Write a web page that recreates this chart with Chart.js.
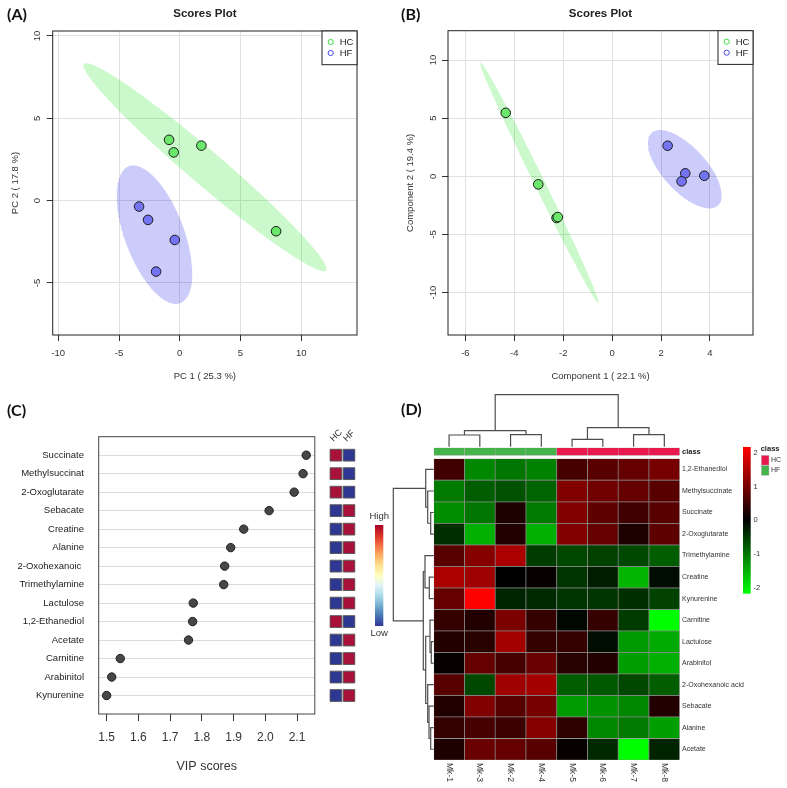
<!DOCTYPE html>
<html>
<head>
<meta charset="utf-8">
<title>Scores, VIP and heatmap</title>
<script src="https://cdn.jsdelivr.net/npm/chart.js@4.4.1/dist/chart.umd.min.js"></script>
<style>
  html, body { margin:0; padding:0; background:#fff; }
  #fig { position:relative; width:787px; height:788px; overflow:hidden; background:#fff; }
  #fig canvas { position:absolute; display:block; }
  .panel { position:absolute; font-family: Lato, "Open Sans", sans-serif; font-weight:700; font-size:16px; line-height:16px; color:#111; white-space:nowrap; }
</style>
</head>
<body>
<div id="fig">
  <canvas id="cA" width="393" height="393" style="left:0px;top:0px;width:393px;height:393px"></canvas>
  <canvas id="cB" width="394" height="393" style="left:393px;top:0px;width:394px;height:393px"></canvas>
  <canvas id="cC" width="320" height="388" style="left:0px;top:400px;width:320px;height:388px"></canvas>
  <canvas id="cCsq" width="73" height="388" style="left:320px;top:400px;width:73px;height:388px"></canvas>
  <canvas id="cD" width="394" height="403" style="left:393px;top:385px;width:394px;height:403px"></canvas>
  <canvas id="cDcol" width="254" height="62" style="left:430px;top:388px;width:254px;height:62px"></canvas>
  <canvas id="cDrow" width="48" height="310" style="left:388px;top:455px;width:48px;height:310px"></canvas>
  <div class="panel" style="left:7px;top:6px">(A)</div>
  <div class="panel" style="left:401px;top:6px">(B)</div>
  <div class="panel" style="left:7px;top:402px">(C)</div>
  <div class="panel" style="left:401px;top:401px">(D)</div>
</div>
<script>
// ---------------- DATA ----------------
const groupNames = ['HC', 'HF'];

// Panel A: PCA scores
const pcaHC_x = [-0.88, -0.50, 1.78, 7.93];
const pcaHC_y = [3.69, 2.93, 3.34, -1.86];
const pcaHF_x = [-3.35, -2.61, -0.41, -1.95];
const pcaHF_y = [-0.36, -1.17, -2.39, -4.31];
// confidence ellipses: [centreX, centreY, axis1X, axis1Y, axis2X, axis2Y]
const pcaHC_ellipse = [2.08, 2.03, 9.96, -6.27, -0.91, -0.78];
const pcaHF_ellipse = [-2.08, -2.07, 3.11, -2.36, 0, -3.48];

// Panel B: PLS-DA scores
const plsHC_x = [-4.35, -3.02, -2.27, -2.22];
const plsHC_y = [5.46, -0.69, -3.58, -3.50];
const plsHF_x = [2.27, 2.99, 2.84, 3.77];
const plsHF_y = [2.63, 0.26, -0.43, 0.05];
const plsHC_ellipse = [-2.97, -0.56, 2.416, -10.35, -0.19, -0.197];
const plsHF_ellipse = [2.97, 0.61, 1.51, -2.25, 0, -2.51];

// Panel C: VIP scores
const vipFeatures = ['Succinate', 'Methylsuccinat', '2-Oxoglutarate', 'Sebacate', 'Creatine', 'Alanine',
  '2-Oxohexanoic ', 'Trimethylamine', 'Lactulose', '1,2-Ethanediol', 'Acetate', 'Carnitine', 'Arabinitol', 'Kynurenine'];
const vipScores = [2.129, 2.119, 2.091, 2.012, 1.932, 1.891, 1.872, 1.869, 1.773, 1.771, 1.758, 1.543, 1.516, 1.500];
const vipHC = ['High','High','High','Low','Low','Low','Low','Low','Low','High','Low','Low','Low','Low'];
const vipHF = ['Low','Low','Low','High','High','High','High','High','High','Low','High','High','High','High'];

// Panel D: heatmap
const sampleOrder = ['Mk-1', 'Mk-3', 'Mk-2', 'Mk-4', 'Mk-5', 'Mk-6', 'Mk-7', 'Mk-8'];
const sampleClass = ['HF', 'HF', 'HF', 'HF', 'HC', 'HC', 'HC', 'HC'];
const heatFeatures = ['1,2-Ethanediol', 'Methylsuccinate', 'Succinate', '2-Oxoglutarate', 'Trimethylamine',
  'Creatine', 'Kynurenine', 'Carnitine', 'Lactulose', 'Arabinitol', '2-Oxohexanoic acid', 'Sebacate', 'Alanine', 'Acetate'];
const heatZ = [
  [0.55, -1.15, -1.00, -1.10, 0.60, 0.75, 0.85, 1.00],
  [-1.05, -0.80, -0.70, -0.85, 1.10, 0.95, 0.85, 0.75],
  [-1.20, -1.00, 0.25, -1.05, 1.10, 0.80, 0.55, 0.75],
  [-0.40, -1.50, 0.30, -1.50, 1.10, 0.85, 0.25, 0.80],
  [0.75, 1.15, 1.45, -0.50, -0.60, -0.55, -0.60, -0.80],
  [1.45, 1.35, 0.00, 0.05, -0.45, -0.25, -1.55, -0.10],
  [0.85, 2.15, -0.30, -0.35, -0.45, -0.45, -0.40, -0.55],
  [0.45, 0.30, 1.05, 0.45, -0.05, 0.45, -0.50, -2.15],
  [0.30, 0.35, 1.40, 0.45, 0.45, -0.10, -1.30, -1.45],
  [0.05, 0.85, 0.60, 0.90, 0.35, 0.30, -1.35, -1.50],
  [0.75, -0.60, 1.35, 1.40, -0.80, -0.75, -0.60, -0.80],
  [0.30, 1.10, 0.75, 1.00, -1.30, -1.25, -1.15, 0.30],
  [0.45, 0.60, 0.50, 1.15, 0.40, -1.15, -1.05, -1.35],
  [0.25, 0.90, 0.85, 0.75, 0.05, -0.35, -2.15, -0.30]
];
const heatRange = 2.17;
const heatLegendTicks = [2, 1, 0, -1, -2];
// dendrograms: [childA, childB, height]; negative = leaf (1-based display order), positive = earlier merge
const colMerges = [[-5,-6,7.4], [-1,-2,11.7], [-3,-4,12.0], [-7,-8,12.0], [2,3,16.0], [1,4,19.0], [5,6,52.0]];
const rowMerges = [[-3,-4,3.0], [-2,1,6.0], [-1,2,8.0], [-6,-7,4.4], [-5,4,8.7], [-9,-10,2.4], [-8,6,3.7],
  [-13,-14,3.0], [-12,8,4.7], [-11,9,6.0], [7,10,8.0], [5,11,10.4], [3,12,40.4]];

// ---------------- STYLE ----------------
const FONT = '"Liberation Sans", Arial, sans-serif';
Chart.defaults.font.family = FONT;
Chart.defaults.color = '#333';
Chart.defaults.animation = false;
Chart.defaults.responsive = false;
Chart.defaults.plugins.legend.display = false;
Chart.defaults.plugins.tooltip.enabled = false;
Chart.defaults.plugins.title.display = false;

const groupFill = { HC: '#6BE86B', HF: '#7474F2' };
const groupEllipse = { HC: 'rgba(0,225,0,0.2)', HF: 'rgba(0,0,235,0.2)' };
const groupLegend = { HC: '#3BDC3B', HF: '#4A4AEE' };
const levelColor = { High: '#A8113A', Low: '#2E3792' };
const classColor = { HC: '#E8194C', HF: '#43B34A' };

function ellipsePoints(e) {
  const pts = [];
  for (let k = 0; k <= 180; k++) {
    const t = 2 * Math.PI * k / 180;
    pts.push({ x: e[0] + e[2] * Math.cos(t) + e[4] * Math.sin(t), y: e[1] + e[3] * Math.cos(t) + e[5] * Math.sin(t) });
  }
  return pts;
}
function zipXY(xs, ys) { return xs.map((x, i) => ({ x: x, y: ys[i] })); }

const scoresDecor = {
  id: 'scoresDecor',
  afterDraw(chart, args, o) {
    const ctx = chart.ctx, a = chart.chartArea;
    ctx.save();
    ctx.strokeStyle = '#222'; ctx.lineWidth = 1;
    ctx.strokeRect(a.left, a.top, a.right - a.left, a.bottom - a.top);
    ctx.fillStyle = '#222';
    ctx.font = 'bold 11.5px ' + FONT;
    ctx.textAlign = 'center'; ctx.textBaseline = 'middle';
    ctx.fillText(o.title, (a.left + a.right) / 2, 14);
    const lx = a.right - 35, ly = a.top;
    ctx.fillStyle = '#fff'; ctx.fillRect(lx, ly, 35, 33.7);
    ctx.strokeRect(lx, ly, 35, 33.7);
    ctx.font = '9.5px ' + FONT; ctx.textAlign = 'left';
    groupNames.forEach((g, i) => {
      const cy = ly + 11 + i * 11;
      ctx.beginPath(); ctx.arc(lx + 8.7, cy, 2.6, 0, 2 * Math.PI);
      ctx.strokeStyle = groupLegend[g]; ctx.lineWidth = 1; ctx.stroke();
      ctx.fillStyle = '#222'; ctx.fillText(g, lx + 17.7, cy + 0.5);
    });
    ctx.restore();
  }
};

function makeScores(id, p) {
  return new Chart(document.getElementById(id), {
    type: 'scatter',
    data: { datasets: [
      { data: ellipsePoints(p.ellHC), showLine: true, fill: 'shape', backgroundColor: groupEllipse.HC, borderColor: 'rgba(0,0,0,0)', pointRadius: 0, tension: 0, order: 3 },
      { data: ellipsePoints(p.ellHF), showLine: true, fill: 'shape', backgroundColor: groupEllipse.HF, borderColor: 'rgba(0,0,0,0)', pointRadius: 0, tension: 0, order: 3 },
      { data: zipXY(p.hcx, p.hcy), pointRadius: 4.8, backgroundColor: groupFill.HC, borderColor: '#1a1a1a', borderWidth: 1, order: 1 },
      { data: zipXY(p.hfx, p.hfy), pointRadius: 4.8, backgroundColor: groupFill.HF, borderColor: '#1a1a1a', borderWidth: 1, order: 1 }
    ] },
    options: {
      devicePixelRatio: 1,
      layout: { padding: { top: p.padTop, right: p.padRight, bottom: 10.6, left: 0 } },
      scales: {
        x: { type: 'linear', min: p.xMin, max: p.xMax,
          ticks: { stepSize: p.xStep, includeBounds: false, color: '#333', font: { size: 9.5 }, padding: 7, maxRotation: 0, autoSkip: false },
          grid: { color: '#e0e0e0', lineWidth: 1, tickColor: '#333', tickLength: 6 },
          border: { display: false },
          title: { display: true, text: p.xTitle, color: '#333', font: { size: 9.5 }, padding: 0 },
          afterFit: s => { s.height = 47.4; } },
        y: { type: 'linear', min: p.yMin, max: p.yMax,
          ticks: { stepSize: p.yStep, includeBounds: false, minRotation: 90, maxRotation: 90, crossAlign: 'center', padding: p.yTickPad, color: '#333', font: { size: 9.5 }, autoSkip: false },
          grid: { color: '#e0e0e0', lineWidth: 1, tickColor: '#333', tickLength: 6 },
          border: { display: false },
          title: { display: true, text: p.yTitle, color: '#333', font: { size: 9.5 }, padding: { top: p.yTitlePad, bottom: 0 } },
          afterFit: s => { s.width = p.yWidth; } }
      },
      plugins: { scoresDecor: { title: 'Scores Plot' } }
    },
    plugins: [scoresDecor]
  });
}

makeScores('cA', { hcx: pcaHC_x, hcy: pcaHC_y, hfx: pcaHF_x, hfy: pcaHF_y, ellHC: pcaHC_ellipse, ellHF: pcaHF_ellipse,
  xMin: -10.46, xMax: 14.59, yMin: -8.16, yMax: 10.3, xStep: 5, yStep: 5,
  xTitle: 'PC 1 ( 25.3 %)', yTitle: 'PC 2 ( 17.8 %)', yWidth: 52.7, yTickPad: 4.1, yTitlePad: 9.3, padTop: 31, padRight: 36 });

makeScores('cB', { hcx: plsHC_x, hcy: plsHC_y, hfx: plsHF_x, hfy: plsHF_y, ellHC: plsHC_ellipse, ellHF: plsHF_ellipse,
  xMin: -6.71, xMax: 5.76, yMin: -13.64, yMax: 12.52, xStep: 2, yStep: 5,
  xTitle: 'Component 1 ( 22.1 %)', yTitle: 'Component 2 ( 19.4 %)', yWidth: 55, yTickPad: 2.1, yTitlePad: 11.3, padTop: 30.7, padRight: 34 });

// ---------------- PANEL C ----------------
const boxPlugin = {
  id: 'boxPlugin',
  afterDraw(chart) {
    const ctx = chart.ctx, a = chart.chartArea;
    ctx.save(); ctx.strokeStyle = '#444'; ctx.lineWidth = 1;
    ctx.strokeRect(a.left, a.top, a.right - a.left, a.bottom - a.top);
    ctx.restore();
  }
};
new Chart(document.getElementById('cC'), {
  type: 'scatter',
  data: { datasets: [{ data: vipScores.map((v, i) => ({ x: v, y: i })), pointRadius: 4.2, backgroundColor: '#474747', borderColor: '#1e1e1e', borderWidth: 1 }] },
  options: {
    devicePixelRatio: 1,
    layout: { padding: { top: 36.7, right: 1.7, bottom: 13.5, left: 0 } },
    scales: {
      x: { type: 'linear', min: 1.475, max: 2.156,
        ticks: { stepSize: 0.1, includeBounds: false, callback: v => Number(v).toFixed(1), font: { size: 12 }, color: '#333', padding: 9.8, maxRotation: 0, autoSkip: false },
        grid: { drawOnChartArea: false, tickLength: 7, tickColor: '#333' },
        border: { display: false },
        title: { display: true, text: 'VIP scores', font: { size: 12.5 }, color: '#333', padding: 0 },
        afterFit: s => { s.height = 60.5; } },
      y: { type: 'linear', min: -1, max: 14, reverse: true,
        afterBuildTicks: s => { s.ticks = vipFeatures.map((_, i) => ({ value: i })); },
        ticks: { callback: (v, i) => vipFeatures[i], font: { size: 9.5 }, color: '#222', padding: 14.7, autoSkip: false },
        grid: { color: '#dcdcdc', lineWidth: 1, drawTicks: false },
        border: { display: false },
        afterFit: s => { s.width = 98.7; } }
    }
  },
  plugins: [boxPlugin]
});

const rdylbu = ['#313695', '#4575B4', '#74ADD1', '#ABD9E9', '#E0F3F8', '#FFFFBF', '#FEE090', '#FDAE61', '#F46D43', '#D73027', '#A50026'];
const vipSideDecor = {
  id: 'vipSideDecor',
  afterDraw(chart) {
    const ctx = chart.ctx, xs = chart.scales.x;
    ctx.save();
    ctx.fillStyle = '#333'; ctx.font = '9px ' + FONT;
    groupNames.forEach((g, i) => {
      ctx.save();
      ctx.translate(xs.getPixelForValue(i) - 2.4, 42);
      ctx.rotate(-Math.PI / 4);
      ctx.textAlign = 'left'; ctx.textBaseline = 'alphabetic';
      ctx.fillText(g, 0, 0);
      ctx.restore();
    });
    const top = 125, bot = 226;
    const grad = ctx.createLinearGradient(0, bot, 0, top);
    rdylbu.forEach((c, i) => grad.addColorStop(i / (rdylbu.length - 1), c));
    ctx.fillStyle = grad; ctx.fillRect(55, top, 8.3, bot - top);
    ctx.fillStyle = '#333'; ctx.font = '9.5px ' + FONT; ctx.textAlign = 'center'; ctx.textBaseline = 'middle';
    ctx.fillText('High', 59.2, 116.7);
    ctx.fillText('Low', 59.2, 233);
    ctx.restore();
  }
};
new Chart(document.getElementById('cCsq'), {
  type: 'scatter',
  data: { datasets: [
    { data: vipFeatures.map((_, i) => ({ x: 0, y: i })), pointStyle: 'rect', pointRadius: 8.3, backgroundColor: vipHC.map(l => levelColor[l]), borderColor: '#5a5a5a', borderWidth: 1 },
    { data: vipFeatures.map((_, i) => ({ x: 1, y: i })), pointStyle: 'rect', pointRadius: 8.3, backgroundColor: vipHF.map(l => levelColor[l]), borderColor: '#5a5a5a', borderWidth: 1 }
  ] },
  options: {
    devicePixelRatio: 1,
    layout: { padding: { top: 36.7, bottom: 74, left: 8, right: 37.4 } },
    scales: { x: { display: false, min: -0.5, max: 1.5 }, y: { display: false, min: -1, max: 14, reverse: true } }
  },
  plugins: [vipSideDecor]
});

// ---------------- PANEL D ----------------
function heatColor(z) {
  const t = Math.max(-1, Math.min(1, z / heatRange));
  return t >= 0 ? 'rgb(' + Math.round(255 * t) + ',0,0)' : 'rgb(0,' + Math.round(-255 * t) + ',0)';
}
const heatDecor = {
  id: 'heatDecor',
  afterDraw(chart) {
    const ctx = chart.ctx, xs = chart.scales.x, a = chart.chartArea;
    ctx.save();
    ctx.fillStyle = '#333'; ctx.font = '8.5px ' + FONT;
    sampleOrder.forEach((s, i) => {
      ctx.save();
      ctx.translate(xs.getPixelForValue(i), a.bottom + 3);
      ctx.rotate(Math.PI / 2);
      ctx.textAlign = 'left'; ctx.textBaseline = 'middle';
      ctx.fillText(s, 0, 0);
      ctx.restore();
    });
    // colour key
    const zeroY = 135.3, perUnit = 33.8, top = zeroY - heatRange * perUnit, bot = zeroY + heatRange * perUnit;
    const grad = ctx.createLinearGradient(0, top, 0, bot);
    grad.addColorStop(0, 'rgb(255,0,0)'); grad.addColorStop(0.5, 'rgb(0,0,0)'); grad.addColorStop(1, 'rgb(0,255,0)');
    ctx.fillStyle = grad; ctx.fillRect(350, top, 7.7, bot - top);
    ctx.fillStyle = '#333'; ctx.font = '7.5px ' + FONT; ctx.textAlign = 'left'; ctx.textBaseline = 'middle';
    heatLegendTicks.forEach(v => ctx.fillText(String(v), 360.5, zeroY - v * perUnit));
    // class key
    ctx.font = 'bold 7.5px ' + FONT; ctx.fillStyle = '#222';
    ctx.fillText('class', 367.7, 64);
    groupNames.forEach((g, i) => {
      const y0 = 70.3 + i * 10.2;
      ctx.fillStyle = classColor[g]; ctx.fillRect(368.3, y0, 7.7, 9.8);
      ctx.strokeStyle = '#bbb'; ctx.lineWidth = 0.5; ctx.strokeRect(368.3, y0, 7.7, 9.8);
      ctx.fillStyle = '#333'; ctx.font = '7px ' + FONT;
      ctx.fillText(g, 378, y0 + 5);
    });
    ctx.restore();
  }
};
const heatDatasets = heatFeatures.map((f, r) => ({
  label: f,
  data: sampleOrder.map(() => [r, r + 1]),
  backgroundColor: heatZ[r].map(heatColor),
  borderColor: '#8a8a8a', borderWidth: 0.7, borderSkipped: false,
  grouped: false, barPercentage: 1, categoryPercentage: 1
}));
const classDataset = {
  label: 'class',
  data: sampleOrder.map(() => [-0.512, -0.158]),
  backgroundColor: sampleClass.map(c => classColor[c]),
  borderColor: '#b5b5b5', borderWidth: 0.5, borderSkipped: false,
  grouped: false, barPercentage: 1, categoryPercentage: 1
};
new Chart(document.getElementById('cD'), {
  type: 'bar',
  data: { labels: sampleOrder, datasets: [classDataset].concat(heatDatasets) },
  options: {
    devicePixelRatio: 1,
    layout: { padding: { left: 40.7, top: 62.7, bottom: 28, right: 0 } },
    scales: {
      x: { display: false, offset: true },
      y: { type: 'linear', position: 'right', reverse: true, min: -0.512, max: 14,
        afterBuildTicks: s => { s.ticks = [{ value: -0.335 }].concat(heatFeatures.map((_, i) => ({ value: i + 0.5 }))); },
        ticks: { callback: (v, i) => (i === 0 ? 'class' : heatFeatures[i - 1]),
          font: c => (c.index === 0 ? { size: 7.5, weight: 'bold' } : { size: 7, weight: 'normal' }),
          color: c => (c.index === 0 ? '#222' : '#333'), padding: 2.3, autoSkip: false },
        grid: { display: false, drawTicks: false },
        border: { display: false },
        afterFit: s => { s.width = 107.3; } }
    }
  },
  plugins: [heatDecor]
});

function dendroSegments(merges, leafPos) {
  const nodes = [];
  const get = id => (id < 0 ? { p: leafPos(-id), h: 0 } : nodes[id - 1]);
  return merges.map(([a, b, h]) => {
    const A = get(a), B = get(b);
    nodes.push({ p: (A.p + B.p) / 2, h: h });
    return [[A.p, A.h], [A.p, h], [B.p, h], [B.p, B.h]];
  });
}
function dendroDataset(points) {
  return { data: points, showLine: true, pointRadius: 0, borderColor: '#4d4d4d', borderWidth: 1.2, tension: 0, fill: false, clip: false };
}
new Chart(document.getElementById('cDcol'), {
  type: 'scatter',
  data: { datasets: dendroSegments(colMerges, k => k - 1).map(s => dendroDataset(s.map(q => ({ x: q[0], y: q[1] })))) },
  options: {
    devicePixelRatio: 1,
    layout: { padding: { left: 3.7, right: 4.3, top: 6.7, bottom: 3.3 } },
    scales: { x: { display: false, min: -0.5, max: 7.5 }, y: { display: false, min: 0, max: 52 } }
  }
});
new Chart(document.getElementById('cDrow'), {
  type: 'scatter',
  data: { datasets: dendroSegments(rowMerges, k => k - 0.5).map(s => dendroDataset(s.map(q => ({ x: q[1], y: q[0] })))) },
  options: {
    devicePixelRatio: 1,
    layout: { padding: { left: 5.3, right: 2.3, top: 3.7, bottom: 5 } },
    scales: { x: { display: false, reverse: true, min: 0, max: 40.4 }, y: { display: false, reverse: true, min: 0, max: 14 } }
  }
});
</script>
</body>
</html>
